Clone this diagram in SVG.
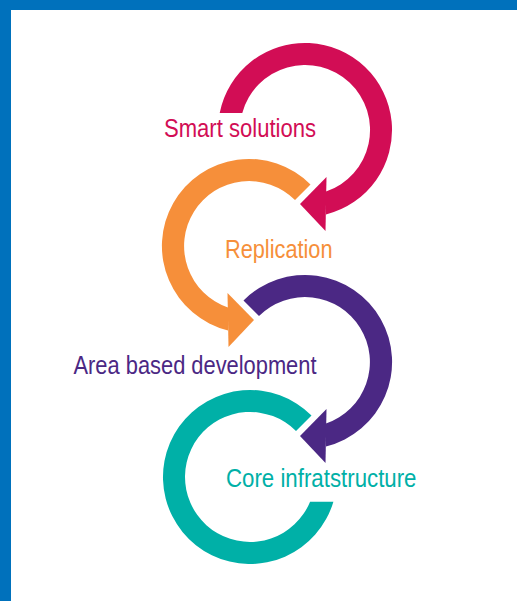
<svg xmlns="http://www.w3.org/2000/svg" width="517" height="601" viewBox="0 0 517 601">
  <style>
    .lbl { font-family: "Liberation Sans Narrow", "Liberation Sans", Arial, sans-serif; font-size: 25.5px; }
    .magenta { fill: #D20D55; }
    .orange { fill: #F68F3A; }
    .purple { fill: #4B2884; }
    .teal { fill: #00B0A7; }
    .frame { fill: #0071BC; }
  </style>
  <rect x="0" y="0" width="517" height="601" fill="#FFFFFF"/>
  <g id="frame">
    <rect class="frame" x="0" y="0" width="517" height="10"/>
    <rect class="frame" x="0" y="0" width="11" height="601"/>
  </g>

  <g id="core-infrastructure">
    <path class="teal" d="M 311.5,415.5 A 87 87 0 1 0 333.4,501.7 L 310.1,501.7 A 65 65 0 1 1 296,431 Z"/>
    <text class="lbl teal" x="226" y="487" textLength="190.5" lengthAdjust="spacingAndGlyphs">Core infratstructure</text>
  </g>

  <g id="area-based-development">
    <polygon class="purple" points="326.5,409 300,436 325.5,463"/>
    <path class="purple" d="M 243.5,300.5 A 87 87 0 1 1 326,446.4 L 326,423.5 A 65 65 0 1 0 259,316 Z"/>
    <text class="lbl purple" x="73.5" y="374" textLength="243" lengthAdjust="spacingAndGlyphs">Area based development</text>
  </g>

  <g id="replication">
    <polygon class="orange" points="227.5,293 254,320 228.5,347"/>
    <path class="orange" d="M 310.5,184.5 A 87 87 0 1 0 228,330.4 L 228,307.5 A 65 65 0 1 1 295,200 Z"/>
    <text class="lbl orange" x="225" y="258.3" textLength="107.5" lengthAdjust="spacingAndGlyphs">Replication</text>
  </g>

  <g id="smart-solutions">
    <polygon class="magenta" points="326.5,177 300,204 325.5,231"/>
    <path class="magenta" d="M 219.7,113 A 87 87 0 1 1 326,214.4 L 326,191.5 A 65 65 0 1 0 242.3,113 Z"/>
    <text class="lbl magenta" x="164" y="137" textLength="152" lengthAdjust="spacingAndGlyphs">Smart solutions</text>
  </g>
</svg>
